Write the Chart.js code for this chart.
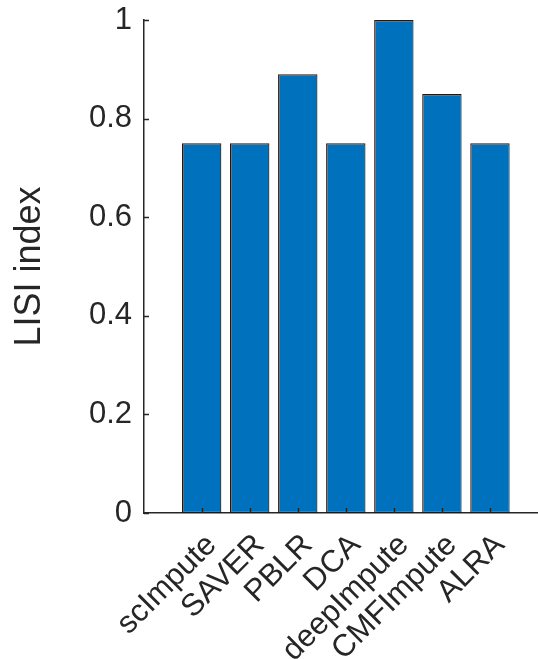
<!DOCTYPE html>
<html>
<head>
<meta charset="utf-8">
<script src="https://cdn.jsdelivr.net/npm/chart.js@4/dist/chart.umd.min.js"></script>
<style>
  html, body { margin: 0; padding: 0; background: #ffffff; }
  #wrap { width: 538px; height: 659px; position: relative; }
</style>
</head>
<body>
<div id="wrap"><canvas id="c" width="538" height="659"></canvas></div>
<script>
const categories = ['scImpute', 'SAVER', 'PBLR', 'DCA', 'deepImpute', 'CMFImpute', 'ALRA'];
const xPositions = [1, 2, 3, 4, 5, 6, 7];
const lisiValues = [0.75, 0.75, 0.89, 0.75, 1.0, 0.85, 0.75];
const yTickValues = [0, 0.2, 0.4, 0.6, 0.8, 1];
const yTickLabels = ['0', '0.2', '0.4', '0.6', '0.8', '1'];
const yTitle = 'LISI index';

const AXIS_COLOR = '#262626';
const FONT = '"Liberation Sans", Arial, Helvetica, sans-serif';

const inwardTicks = {
  id: 'inwardTicks',
  afterDatasetsDraw(chart) {
    const ctx = chart.ctx;
    const xs = chart.scales.x, ys = chart.scales.y;
    ctx.save();
    ctx.strokeStyle = AXIS_COLOR;
    ctx.lineWidth = 1.5;
    ctx.beginPath();
    yTickValues.forEach(v => {
      const y = Math.round(ys.getPixelForValue(v)) + 0.5;
      ctx.moveTo(xs.left, y);
      ctx.lineTo(xs.left + 5, y);
    });
    xPositions.forEach(v => {
      const x = Math.round(xs.getPixelForValue(v)) + 0.5;
      ctx.moveTo(x, ys.bottom);
      ctx.lineTo(x, ys.bottom - 5);
    });
    ctx.stroke();
    ctx.restore();
  }
};

new Chart(document.getElementById('c'), {
  type: 'bar',
  data: {
    datasets: [{
      data: xPositions.map((x, i) => ({ x: x, y: lisiValues[i] })),
      backgroundColor: '#0072BD',
      borderColor: '#1a1a1a',
      borderWidth: 1.2,
      borderSkipped: false,
      barPercentage: 1,
      categoryPercentage: 0.82
    }]
  },
  options: {
    responsive: false,
    animation: false,
    devicePixelRatio: 1,
    layout: { padding: { top: 20, right: 0, left: 0, bottom: 0 } },
    plugins: { legend: { display: false }, tooltip: { enabled: false } },
    scales: {
      x: {
        type: 'linear',
        offset: false,
        min: -0.2,
        max: 8,
        grid: { display: false, drawTicks: false },
        border: { display: true, color: AXIS_COLOR, width: 1.5 },
        afterBuildTicks(scale) { scale.ticks = xPositions.map(v => ({ value: v })); },
        afterFit(scale) { scale.height = 146; scale.paddingLeft = 0; scale.paddingRight = 0; },
        ticks: {
          autoSkip: false,
          minRotation: 45,
          maxRotation: 45,
          padding: 14,
          labelOffset: 10,
          color: AXIS_COLOR,
          font: { family: FONT, size: 31 },
          callback: (v) => categories[xPositions.indexOf(v)] || ''
        }
      },
      y: {
        min: 0,
        max: 1,
        grid: { display: false, drawTicks: false },
        border: { display: true, color: AXIS_COLOR, width: 1.5 },
        afterBuildTicks(scale) { scale.ticks = yTickValues.map(v => ({ value: v })); },
        afterFit(scale) { scale.width = 144; scale.paddingTop = 0; scale.paddingBottom = 0; },
        ticks: {
          padding: 12,
          color: AXIS_COLOR,
          font: { family: FONT, size: 31 },
          callback: (v) => yTickLabels[yTickValues.indexOf(v)]
        },
        title: {
          display: true,
          text: yTitle,
          color: AXIS_COLOR,
          font: { family: FONT, size: 36 },
          padding: { top: 8, bottom: 0 }
        }
      }
    }
  },
  plugins: [inwardTicks]
});
</script>
</body>
</html>
